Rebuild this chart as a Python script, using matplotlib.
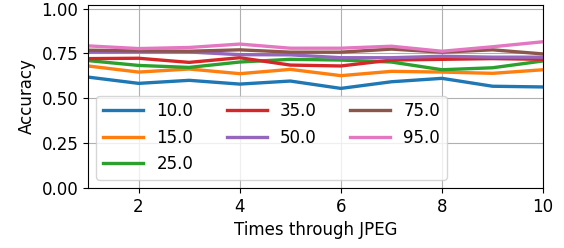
import matplotlib
matplotlib.use("Agg")
import matplotlib.pyplot as plt

# Anzahl der JPEG-Durchlaeufe
times = [1, 2, 3, 4, 5, 6, 7, 8, 9, 10]

# Qualitaetsstufen
qualities = ["10.0", "15.0", "25.0", "35.0", "50.0", "75.0", "95.0"]

acc_10 = [0.618, 0.583, 0.600, 0.579, 0.596, 0.555, 0.592, 0.611, 0.567, 0.563]
acc_15 = [0.680, 0.646, 0.663, 0.637, 0.661, 0.626, 0.650, 0.646, 0.639, 0.659]
acc_25 = [0.710, 0.683, 0.672, 0.702, 0.717, 0.713, 0.702, 0.659, 0.670, 0.708]
acc_35 = [0.721, 0.723, 0.700, 0.726, 0.685, 0.680, 0.713, 0.717, 0.721, 0.717]
acc_50 = [0.757, 0.758, 0.758, 0.743, 0.742, 0.726, 0.726, 0.734, 0.729, 0.729]
acc_75 = [0.768, 0.764, 0.762, 0.770, 0.757, 0.757, 0.774, 0.757, 0.770, 0.747]
acc_95 = [0.792, 0.777, 0.783, 0.802, 0.779, 0.779, 0.790, 0.762, 0.787, 0.815]

series = [acc_10, acc_15, acc_25, acc_35, acc_50, acc_75, acc_95]

plt.rcParams['font.size'] = 12

fig, ax = plt.subplots(figsize=(5.64, 2.48), dpi=100)
fig.subplots_adjust(left=0.156, right=0.963, top=0.980, bottom=0.242)

for q, acc in zip(qualities, series):
    ax.plot(times, acc, lw=2.4, label=q)

ax.set_xlim(1, 10)
ax.set_ylim(0, 1.02)
ax.set_xticks([2, 4, 6, 8, 10])
ax.set_yticks([0, 0.25, 0.5, 0.75, 1.0])
ax.set_xlabel("Times through JPEG")
ax.set_ylabel("Accuracy")
ax.grid(True)
ax.legend(ncol=3, loc="lower left", handlelength=2.4)

fig.savefig("out.png", dpi=100)
